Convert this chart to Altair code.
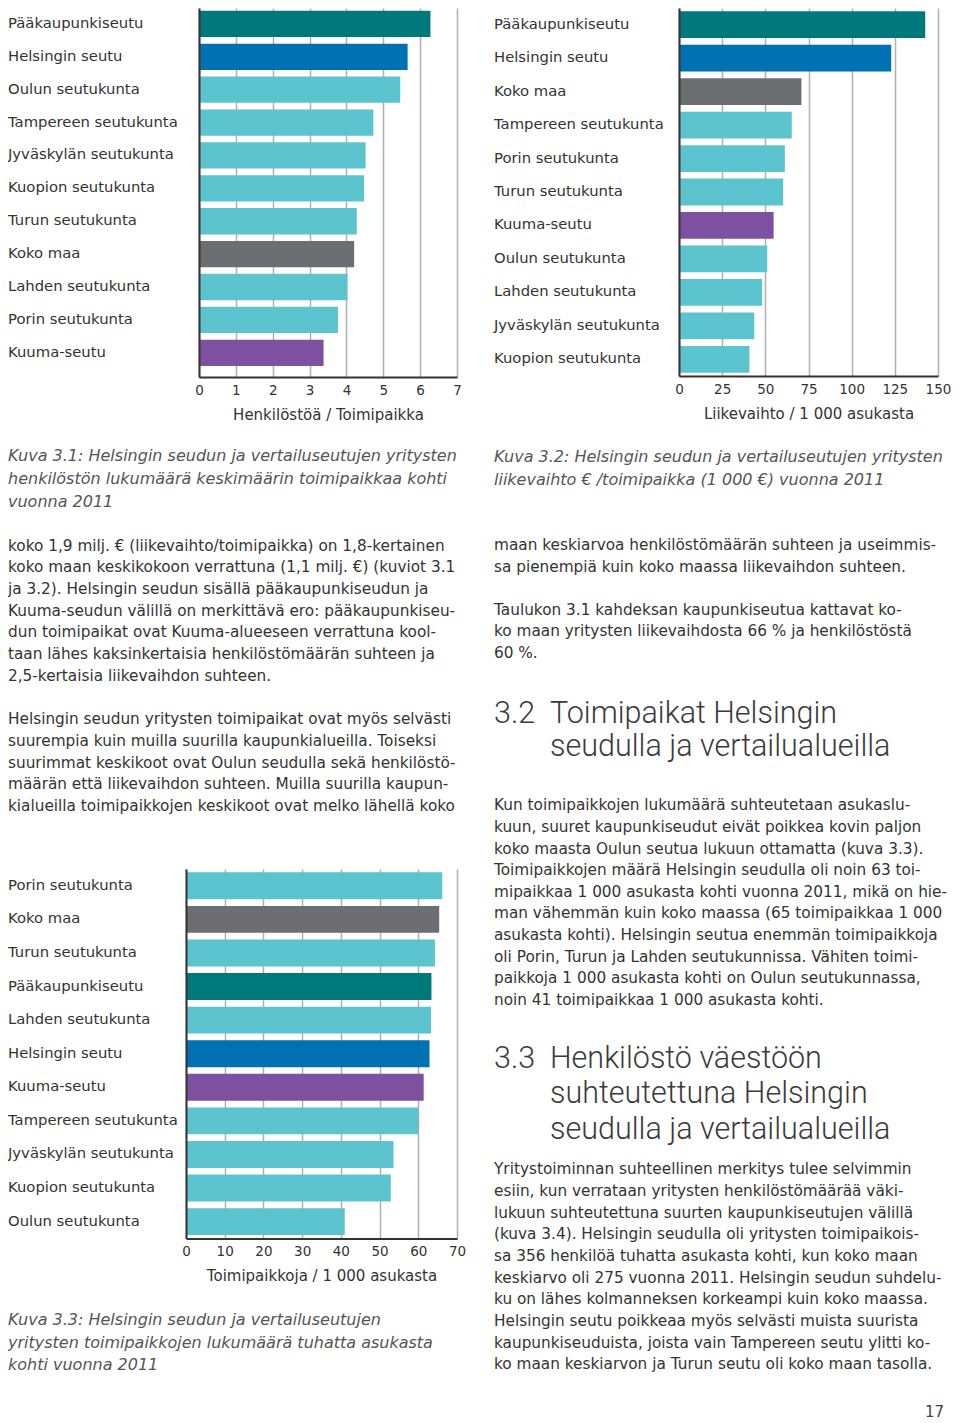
import altair as alt
import pandas as pd

# ------------------------------------------------------------------ data
c1_alueet = ["Pääkaupunkiseutu", "Helsingin seutu", "Oulun seutukunta", "Tampereen seutukunta",
             "Jyväskylän seutukunta", "Kuopion seutukunta", "Turun seutukunta", "Koko maa",
             "Lahden seutukunta", "Porin seutukunta", "Kuuma-seutu"]
c1_arvot = [6.28, 5.66, 5.46, 4.73, 4.52, 4.48, 4.28, 4.21, 4.03, 3.77, 3.38]
c1_ticks = [0, 1, 2, 3, 4, 5, 6, 7]
c1_title = "Henkilöstöä / Toimipaikka"

c2_alueet = ["Pääkaupunkiseutu", "Helsingin seutu", "Koko maa", "Tampereen seutukunta",
             "Porin seutukunta", "Turun seutukunta", "Kuuma-seutu", "Oulun seutukunta",
             "Lahden seutukunta", "Jyväskylän seutukunta", "Kuopion seutukunta"]
c2_arvot = [142.6, 122.9, 70.9, 65.3, 61.3, 60.3, 54.8, 51.1, 48.1, 43.6, 40.8]
c2_ticks = [0, 25, 50, 75, 100, 125, 150]
c2_title = "Liikevaihto / 1 000 asukasta"

c3_alueet = ["Porin seutukunta", "Koko maa", "Turun seutukunta", "Pääkaupunkiseutu",
             "Lahden seutukunta", "Helsingin seutu", "Kuuma-seutu", "Tampereen seutukunta",
             "Jyväskylän seutukunta", "Kuopion seutukunta", "Oulun seutukunta"]
c3_arvot = [66.2, 65.4, 64.3, 63.4, 63.3, 62.9, 61.4, 60.0, 53.6, 52.9, 41.0]
c3_ticks = [0, 10, 20, 30, 40, 50, 60, 70]
c3_title = "Toimipaikkoja / 1 000 asukasta"

vari_alueet = ["Pääkaupunkiseutu", "Helsingin seutu", "Koko maa", "Kuuma-seutu",
               "Oulun seutukunta", "Tampereen seutukunta", "Jyväskylän seutukunta",
               "Kuopion seutukunta", "Turun seutukunta", "Lahden seutukunta", "Porin seutukunta"]
vari_koodit = ["#00797c", "#0071b1", "#6d6e71", "#7e51a0",
               "#5bc4cf", "#5bc4cf", "#5bc4cf", "#5bc4cf", "#5bc4cf", "#5bc4cf", "#5bc4cf"]

kuva31 = ["Kuva 3.1: Helsingin seudun ja vertailuseutujen yritysten",
          "henkilöstön lukumäärä keskimäärin toimipaikkaa kohti",
          "vuonna 2011"]
kuva32 = ["Kuva 3.2: Helsingin seudun ja vertailuseutujen yritysten",
          "liikevaihto € /toimipaikka (1 000 €) vuonna 2011"]
kuva33 = ["Kuva 3.3: Helsingin seudun ja vertailuseutujen",
          "yritysten toimipaikkojen lukumäärä tuhatta asukasta",
          "kohti vuonna 2011"]

kpl_l1 = ["koko 1,9 milj. € (liikevaihto/toimipaikka) on 1,8-kertainen",
          "koko maan keskikokoon verrattuna (1,1 milj. €) (kuviot 3.1",
          "ja 3.2). Helsingin seudun sisällä pääkaupunkiseudun ja",
          "Kuuma-seudun välillä on merkittävä ero: pääkaupunkiseu-",
          "dun toimipaikat ovat Kuuma-alueeseen verrattuna kool-",
          "taan lähes kaksinkertaisia henkilöstömäärän suhteen ja",
          "2,5-kertaisia liikevaihdon suhteen."]
kpl_l2 = ["Helsingin seudun yritysten toimipaikat ovat myös selvästi",
          "suurempia kuin muilla suurilla kaupunkialueilla. Toiseksi",
          "suurimmat keskikoot ovat Oulun seudulla sekä henkilöstö-",
          "määrän että liikevaihdon suhteen. Muilla suurilla kaupun-",
          "kialueilla toimipaikkojen keskikoot ovat melko lähellä koko"]
kpl_r1 = ["maan keskiarvoa henkilöstömäärän suhteen ja useimmis-",
          "sa pienempiä kuin koko maassa liikevaihdon suhteen."]
kpl_r2 = ["Taulukon 3.1 kahdeksan kaupunkiseutua kattavat ko-",
          "ko maan yritysten liikevaihdosta 66 % ja henkilöstöstä",
          "60 %."]
otsikko32_nro = "3.2"
otsikko32 = ["Toimipaikat Helsingin", "seudulla ja vertailualueilla"]
kpl_r3 = ["Kun toimipaikkojen lukumäärä suhteutetaan asukaslu-",
          "kuun, suuret kaupunkiseudut eivät poikkea kovin paljon",
          "koko maasta Oulun seutua lukuun ottamatta (kuva 3.3).",
          "Toimipaikkojen määrä Helsingin seudulla oli noin 63 toi-",
          "mipaikkaa 1 000 asukasta kohti vuonna 2011, mikä on hie-",
          "man vähemmän kuin koko maassa (65 toimipaikkaa 1 000",
          "asukasta kohti). Helsingin seutua enemmän toimipaikkoja",
          "oli Porin, Turun ja Lahden seutukunnissa. Vähiten toimi-",
          "paikkoja 1 000 asukasta kohti on Oulun seutukunnassa,",
          "noin 41 toimipaikkaa 1 000 asukasta kohti."]
otsikko33_nro = "3.3"
otsikko33 = ["Henkilöstö väestöön", "suhteutettuna Helsingin", "seudulla ja vertailualueilla"]
kpl_r4 = ["Yritystoiminnan suhteellinen merkitys tulee selvimmin",
          "esiin, kun verrataan yritysten henkilöstömäärää väki-",
          "lukuun suhteutettuna suurten kaupunkiseutujen välillä",
          "(kuva 3.4). Helsingin seudulla oli yritysten toimipaikois-",
          "sa 356 henkilöä tuhatta asukasta kohti, kun koko maan",
          "keskiarvo oli 275 vuonna 2011. Helsingin seudun suhdelu-",
          "ku on lähes kolmanneksen korkeampi kuin koko maassa.",
          "Helsingin seutu poikkeaa myös selvästi muista suurista",
          "kaupunkiseuduista, joista vain Tampereen seutu ylitti ko-",
          "ko maan keskiarvon ja Turun seutu oli koko maan tasolla."]
sivunumero = ["17"]

# ------------------------------------------------------------------ style
FONT = "DejaVu Sans"
HEAD_FONT = "Roboto"
INK = "#333333"
CAPTION_INK = "#555555"
BODY_SIZE = 15.3
BODY_LH = 21.65


def bar_chart(alueet, arvot, tick_values, title, width, height, label_w, pad_outer, band_align):
    df = pd.DataFrame({"alue": alueet, "arvo": arvot})
    y_scale = alt.Scale(type="band", paddingInner=0.2, paddingOuter=pad_outer, align=band_align)
    labels = alt.Chart(df).mark_text(
        align="left", baseline="middle", font=FONT, fontSize=14.8, color=INK
    ).encode(
        x=alt.value(0),
        y=alt.Y("alue:N", sort=alueet, axis=None, scale=y_scale),
        text="alue:N",
    ).properties(width=label_w, height=height)

    x_axis = alt.Axis(values=tick_values, title=title, grid=True, gridColor="#b0b0b0",
                      gridWidth=1.5, domainColor="#333333", domainWidth=2, ticks=False,
                      tickSize=0, labelPadding=6.5, labelFlush=False, labelFont=FONT,
                      labelFontSize=13.5, labelColor=INK, titleFont=FONT, titleFontSize=15,
                      titleFontWeight="normal", titleColor=INK, titlePadding=10)
    y_axis = alt.Axis(title=None, ticks=False, tickSize=0, labels=False,
                      domainColor="#333333", domainWidth=2, grid=False, zindex=1)
    bars = alt.Chart(df).mark_bar().encode(
        x=alt.X("arvo:Q", axis=x_axis,
                scale=alt.Scale(domain=[tick_values[0], tick_values[-1]], nice=False)),
        y=alt.Y("alue:N", sort=alueet, axis=y_axis, scale=y_scale),
        color=alt.Color("alue:N", scale=alt.Scale(domain=vari_alueet, range=vari_koodit),
                        legend=None),
    ).properties(width=width, height=height)
    return alt.hconcat(labels, bars, spacing=0, bounds="flush")


def row_scale(n, lh, top_gap, bottom_gap):
    return alt.Scale(domain=[-(top_gap / lh) - 0.5, n - 0.5 + bottom_gap / lh],
                     reverse=True, nice=False, zero=False)


def text_block(lines, width, lh, top_gap, bottom_gap, size=BODY_SIZE, color=INK,
               style="normal", font=FONT, align="left", x0=0):
    n = len(lines)
    df = pd.DataFrame({"rivi": list(range(n)), "teksti": lines})
    return alt.Chart(df).mark_text(
        align=align, baseline="middle", font=font, fontSize=size, fontStyle=style,
        color=color,
    ).encode(
        x=alt.value(x0),
        y=alt.Y("rivi:Q", axis=None, scale=row_scale(n, lh, top_gap, bottom_gap)),
        text="teksti:N",
    ).properties(width=width, height=top_gap + n * lh + bottom_gap)


def heading_block(number, lines, width, lh, top_gap, bottom_gap, size=30.5, indent=56):
    n = len(lines)
    df = pd.DataFrame({"rivi": list(range(n)), "teksti": lines})
    dfn = pd.DataFrame({"rivi": [0], "teksti": [number]})
    sc = row_scale(n, lh, top_gap, bottom_gap)
    common = dict(align="left", baseline="middle", font=HEAD_FONT, fontSize=size,
                  fontWeight=300, color="#3a3a3a")
    num = alt.Chart(dfn).mark_text(**common).encode(
        x=alt.value(0), y=alt.Y("rivi:Q", axis=None, scale=sc), text="teksti:N")
    body = alt.Chart(df).mark_text(**common).encode(
        x=alt.value(indent), y=alt.Y("rivi:Q", axis=None, scale=sc), text="teksti:N")
    return alt.layer(num, body).properties(width=width, height=top_gap + n * lh + bottom_gap)


# ------------------------------------------------------------------ left column
LW = 470
chart1 = bar_chart(c1_alueet, c1_arvot, c1_ticks, c1_title, 258, 369, 191, 0.21, 0.2)
chart3 = bar_chart(c3_alueet, c3_arvot, c3_ticks, c3_title, 271, 369.4, 178, 0.1, 0.5)
cap_l1 = text_block(kuva31, LW, 22.7, 23.1, 0, size=16, color=CAPTION_INK, style="italic")
par_l1 = text_block(kpl_l1, LW, BODY_LH, 20.8, 0)
par_l2 = text_block(kpl_l2, LW, BODY_LH, 21.6, 52.0)
cap_l3 = text_block(kuva33, LW, 22.6, 24.9, 0, size=16, color=CAPTION_INK, style="italic")

left = alt.vconcat(chart1, cap_l1, par_l1, par_l2, chart3, cap_l3, spacing=0, bounds="full")

# ------------------------------------------------------------------ right column
RW = 450
chart2 = bar_chart(c2_alueet, c2_arvot, c2_ticks, c2_title, 259, 368, 185, 0.1, 0.5)
cap_r = text_block(kuva32, RW, 22.7, 24.5, 0, size=16, color=CAPTION_INK, style="italic")
par_r1 = text_block(kpl_r1, RW, BODY_LH, 43.4, 0)
par_r2 = text_block(kpl_r2, RW, BODY_LH, 20.7, 0)
head32 = heading_block(otsikko32_nro, otsikko32, RW, 33.4, 33.3, 0)
par_r3 = text_block(kpl_r3, RW, BODY_LH, 29.4, 0)
head33 = heading_block(otsikko33_nro, otsikko33, RW, 35.5, 29.9, 0)
par_r4 = text_block(kpl_r4, RW, BODY_LH, 10.6, 0)
page_no = text_block(sivunumero, RW, 15, 28.3, 0, size=15, color="#444444", align="right", x0=RW)

right = alt.vconcat(chart2, cap_r, par_r1, par_r2, head32, par_r3, head33, par_r4, page_no,
                    spacing=0, bounds="full")

chart = alt.hconcat(left, right, spacing=16, bounds="full").properties(
    padding=0, background="white"
).configure_view(strokeWidth=0)

chart.save("out.html", embed_options={"renderer": "svg", "actions": False})
